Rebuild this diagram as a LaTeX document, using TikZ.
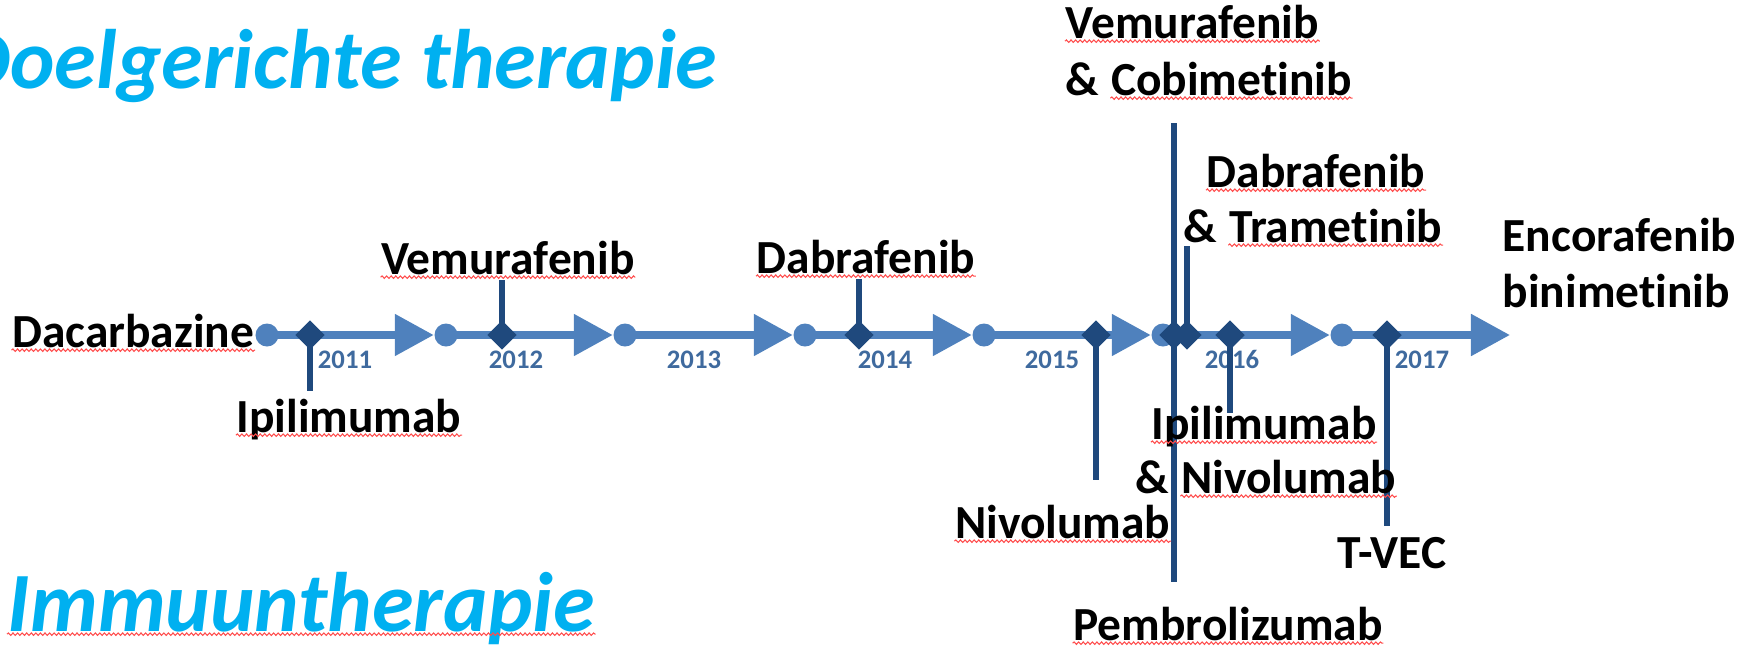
\documentclass[tikz,border=0pt]{standalone}
\usepackage{fontspec}
\setmainfont[Ligatures={NoCommon, NoContextual}]{Carlito}
\usetikzlibrary{arrows.meta, shapes.geometric, positioning, decorations.pathmorphing}
\definecolor{lineblue}{HTML}{4F81BD}
\definecolor{darkblue}{HTML}{1F497D}
\definecolor{yearblue}{HTML}{3F6A9E}
\definecolor{titleblue}{HTML}{00B0F0}

\begin{document}
\begin{tikzpicture}[x=0.01cm, y=-0.01cm,
  dot/.style={circle, fill=lineblue, inner sep=0pt, minimum size=0.23cm},
  event/.style={diamond, aspect=1, fill=darkblue, inner sep=0pt, minimum size=0.30cm},
  tlarrow/.style={draw=lineblue, line width=2.3pt, -{Triangle[length=11.1pt, width=11.4pt]}},
  stemline/.style={draw=darkblue, line width=1.7pt},
  drug/.style={font=\fontsize{13.5}{16}\selectfont\bfseries, inner sep=0pt, anchor=base},
  year/.style={font=\fontsize{7.6}{9}\selectfont\bfseries, text=yearblue, inner sep=0pt, anchor=base},
  title/.style={font=\fontsize{24}{28}\selectfont\bfseries\itshape, text=titleblue, inner sep=0pt},
  spell/.style={draw=red!70, line width=0.3pt, decorate, decoration={snake, amplitude=0.35pt, segment length=1.3pt}}
]
\useasboundingbox (0,0) rectangle (1740,645);

\node[title, anchor=base east] (doel) at (718,88) {Doelgerichte therapie};
\node[title, anchor=base west] (immu) at (7,631) {Immuuntherapie};

\foreach \x [count=\i] in {267,446,625,805,984,1163,1342}
  \node[dot] (c\i) at (\x,335) {};
\coordinate (tip) at (1510,335);
\foreach \i [evaluate=\i as \j using int(\i+1)] in {1,...,6}
  \draw[tlarrow] (c\i.center) -- (c\j.west);
\draw[tlarrow] (c7.center) -- (tip);

\foreach \x/\yr in {345/2011, 516/2012, 694/2013, 885/2014, 1052/2015, 1232/2016, 1422/2017}
  \node[year] (y\yr) at (\x,368) {\yr};

\foreach \x [count=\i] in {310,502,859,1096,1174,1187,1230,1387}
  \node[event] (d\i) at (\x,335) {};

\coordinate (s1) at (310,391);
\coordinate (s2) at (502,280);
\coordinate (s3) at (859,279);
\coordinate (s4) at (1096,480);
\coordinate (s5a) at (1174,123);
\coordinate (s5b) at (1174,582);
\coordinate (s6) at (1187,246);
\coordinate (s7) at (1230,413);
\coordinate (s8) at (1387,526);
\draw[stemline] (d1.center) -- (s1);
\draw[stemline] (d2.center) -- (s2);
\draw[stemline] (d3.center) -- (s3);
\draw[stemline] (d4.center) -- (s4);
\draw[stemline] (s5a) -- (d5.center) -- (s5b);
\draw[stemline] (d6.center) -- (s6);
\draw[stemline] (d7.center) -- (s7);
\draw[stemline] (d8.center) -- (s8);

\node[drug, anchor=base east] (dac) at (255,347) {Dacarbazine};
\node[drug] (ipi) at (349,432) {Ipilimumab};
\node[drug] (vem) at (508,274) {Vemurafenib};
\node[drug] (dab) at (866,273) {Dabrafenib};
\node[drug, anchor=base east] (niv) at (1171,538) {Nivolumab};
\node[drug, anchor=base west] (vem2) at (1065,38) {Vemurafenib};
\node[drug, anchor=base west] (amp1) at (1065,95) {\&};
\node[drug, base right=3pt of amp1] (cob) {Cobimetinib};
\node[drug] (dab2) at (1316,187) {Dabrafenib};
\node[drug, anchor=base east] (tra) at (1443,242) {Trametinib};
\node[drug, base left=3pt of tra] (amp2) {\&};
\node[drug] (ipi2) at (1264,439) {Ipilimumab};
\node[drug, anchor=base west] (amp3) at (1135,493) {\&};
\node[drug, base right=3pt of amp3] (niv2) {Nivolumab};
\node[drug] (tvec) at (1392,568) {T-VEC};
\node[drug] (pem) at (1228,640) {Pembrolizumab};
\node[drug, anchor=base west] (enc) at (1502,251) {Encorafenib};
\node[drug, anchor=base west] (bin) at (1502,307) {binimetinib};

\foreach \n in {dac,ipi,vem,dab,niv,vem2,cob,dab2,tra,ipi2,niv2,pem,immu}
  \draw[spell] ([yshift=-0.9pt]\n.base west) -- ([yshift=-0.9pt]\n.base east);
\end{tikzpicture}
\end{document}
